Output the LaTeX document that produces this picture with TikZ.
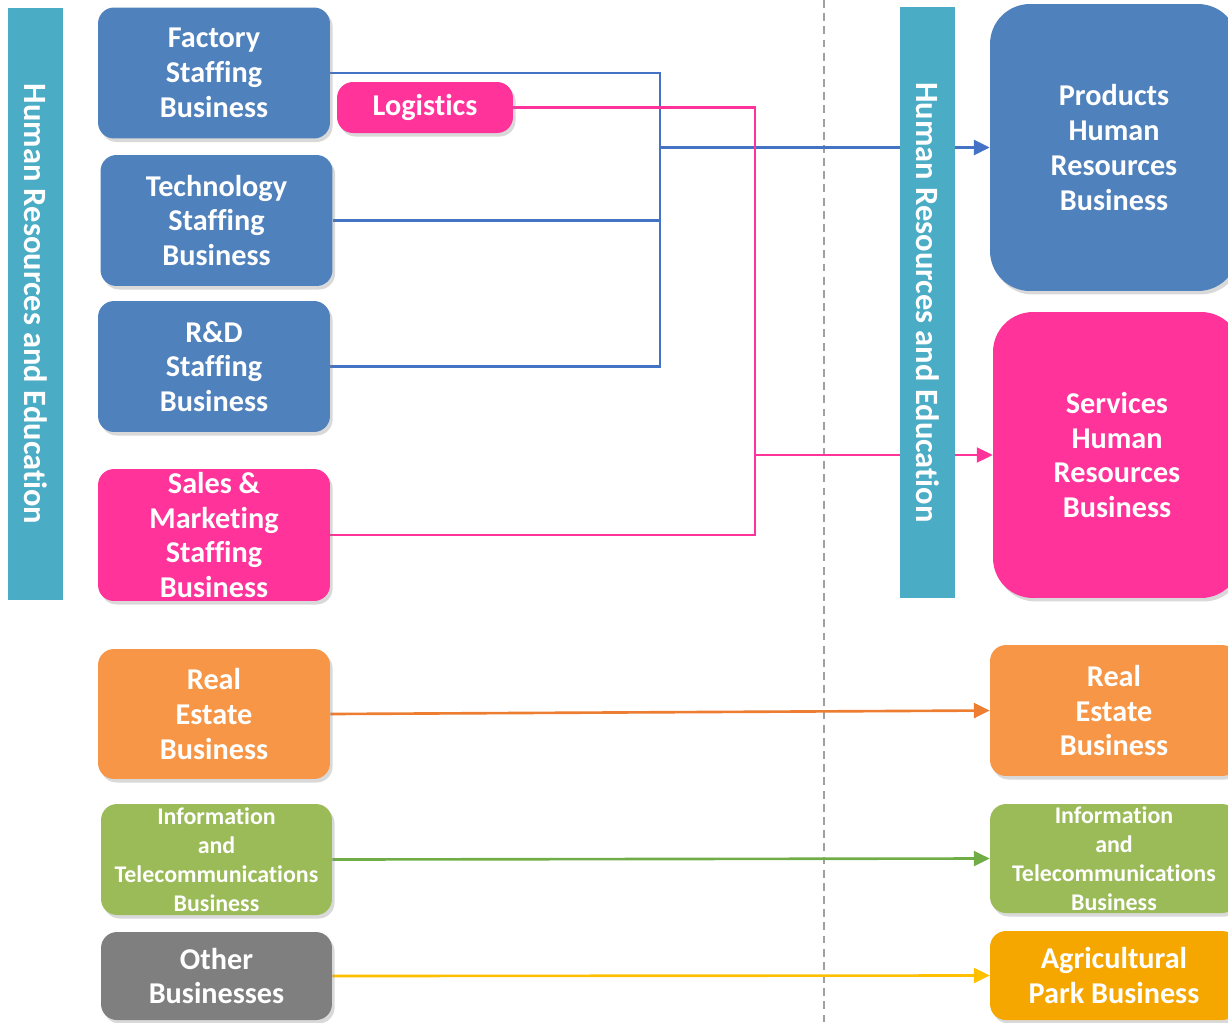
\documentclass[tikz,border=0pt]{standalone}
\usepackage{fontspec}
\setmainfont{Carlito}[Ligatures=NoCommon]
\usetikzlibrary{arrows.meta,shadows,backgrounds}
\definecolor{hrcyan}{HTML}{4BACC6}
\definecolor{bizblue}{HTML}{4F81BD}
\definecolor{bizpink}{HTML}{FF3399}
\definecolor{bizorange}{HTML}{F79646}
\definecolor{bizgreen}{HTML}{9BBB59}
\definecolor{bizgray}{HTML}{7F7F7F}
\definecolor{bizgold}{HTML}{F5A700}
\definecolor{lnblue}{HTML}{4472C4}
\definecolor{lnorange}{HTML}{ED7D31}
\definecolor{lngreen}{HTML}{70AD47}
\definecolor{lnyellow}{HTML}{FFC000}
\definecolor{divgray}{HTML}{A0A0A0}

\begin{document}
\begin{tikzpicture}[x=0.02cm,y=-0.02cm]
\tikzset{biz/.style={fill=#1, rounded corners=0.32cm, text=white, align=center, inner sep=0pt,
           font=\bfseries\fontsize{17.2}{19.8}\selectfont,
           drop shadow={shadow xshift=1.5pt, shadow yshift=-2pt, opacity=0.3}},
         small/.style={font=\bfseries\fontsize{13.6}{16.4}\selectfont},
         big/.style={rounded corners=0.8cm},
         hrbar/.style={fill=hrcyan, rotate=-90, text=white, inner sep=0pt,
           minimum width=11.84cm, minimum height=1.1cm,
           font=\bfseries\fontsize{18.5}{20}\selectfont},
         link/.style={line width=1.3pt, draw=#1},
         tip/.style={-{Triangle[length=9pt,width=8.5pt]}}}
\useasboundingbox (0,0) rectangle (1228,1022);
\clip (0,0) rectangle (1228,1022);

\node[hrbar] (hrleft) at (35.5,304) {Human Resources and Education};
\node[hrbar] (hrright) at (927.5,302.5) {Human Resources and Education};

\node[biz=bizblue, minimum width=4.64cm, minimum height=2.62cm] (factory) at (214,73) {Factory\\Staffing\\Business};
\node[biz=bizpink, minimum width=3.52cm, minimum height=1.02cm] (logistics) at (425,107.5) {Logistics};
\node[biz=bizblue, minimum width=4.64cm, minimum height=2.62cm] (tech) at (216.5,220.5) {Technology\\Staffing\\Business};
\node[biz=bizblue, minimum width=4.64cm, minimum height=2.62cm] (rnd) at (214,366.5) {R\&D\\Staffing\\Business};
\node[biz=bizpink, minimum width=4.64cm, minimum height=2.64cm] (sales) at (214,535) {Sales \&\\Marketing\\Staffing\\Business};
\node[biz=bizorange, minimum width=4.64cm, minimum height=2.6cm] (estateL) at (214,714) {Real\\Estate\\Business};
\node[biz=bizgreen, small, minimum width=4.62cm, minimum height=2.22cm] (ictL) at (216.5,859.5) {Information\\and\\Telecommunications\\Business};
\node[biz=bizgray, minimum width=4.62cm, minimum height=1.76cm] (other) at (216.5,976) {Other\\Businesses};

\node[biz=bizblue, big, minimum width=4.96cm, minimum height=5.74cm] (products) at (1114,147.5) {Products\\Human\\Resources\\Business};
\node[biz=bizpink, big, minimum width=4.96cm, minimum height=5.72cm] (services) at (1117,455) {Services\\Human\\Resources\\Business};
\node[biz=bizorange, minimum width=4.96cm, minimum height=2.62cm] (estateR) at (1114,710.5) {Real\\Estate\\Business};
\node[biz=bizgreen, small, minimum width=4.96cm, minimum height=2.18cm] (ictR) at (1114,858.5) {Information\\and\\Telecommunications\\Business};
\node[biz=bizgold, minimum width=4.96cm, minimum height=1.78cm] (agri) at (1114,975.5) {Agricultural\\Park Business};

\begin{scope}[on background layer]
\coordinate (divtop) at (824,0);
\coordinate (divbot) at (824,1022);
\draw[divgray, line width=1.1pt, dash pattern=on 4.5pt off 3pt] (divtop) -- (divbot);
\coordinate (bj) at (660,147.5);
\coordinate (pj) at (755,455);
\draw[link=lnblue] (factory.east) -| (bj |- rnd.east) -- (rnd.east);
\draw[link=lnblue] (tech.east) -- (tech.east -| bj);
\draw[link=lnblue, line width=1.7pt, tip] (bj) -- (products.west);
\draw[link=bizpink] (logistics.east) -| (pj |- sales.east) -- (sales.east);
\draw[link=bizpink, tip] (pj) -- (services.west);
\draw[link=lnorange, line width=1.5pt, tip] (estateL.east) -- (estateR.west);
\draw[link=lngreen, line width=1.5pt, tip] (ictL.east) -- (ictR.west);
\draw[link=lnyellow, line width=1.5pt, tip] (other.east) -- (agri.west);
\end{scope}
\end{tikzpicture}
\end{document}
